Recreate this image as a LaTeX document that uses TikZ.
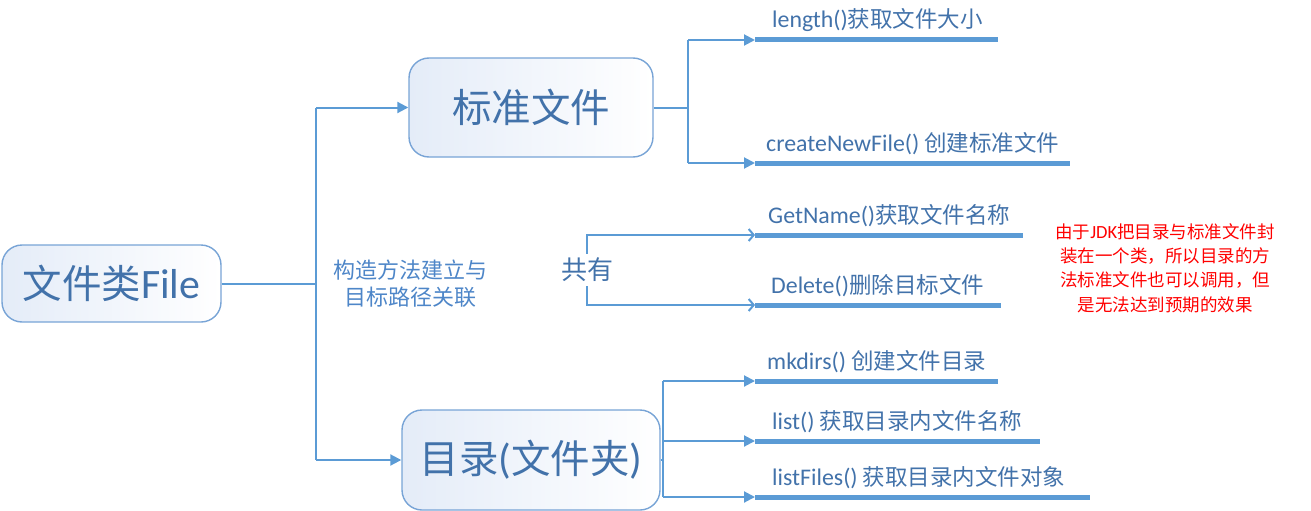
\documentclass[tikz,border=0pt]{standalone}
\usepackage{fontspec}
\setmainfont{Noto Sans CJK SC}
\newfontfamily\lat[Scale=1.06]{Carlito}
\usetikzlibrary{arrows.meta}
\definecolor{lineblue}{RGB}{91,155,213}
\definecolor{txtblue}{RGB}{66,114,170}
\definecolor{lblblue}{RGB}{78,134,200}
\definecolor{boxborder}{RGB}{120,164,214}
\definecolor{boxfill}{RGB}{228,236,248}
\begin{document}
\begin{tikzpicture}[x=1pt,y=-1pt,
  bigbox/.style={draw=boxborder,line width=1.4pt,rounded corners=20pt,
    left color=boxfill,right color=white,text=txtblue,
    font=\fontsize{39.5}{44}\selectfont,inner sep=0pt},
  conn/.style={draw=lineblue,line width=2pt},
  tri/.style={conn,-{Triangle[length=11pt,width=11pt]}},
  barb/.style={conn,-{Straight Barb[length=5pt,width=12pt]}},
  ul/.style={draw=lineblue,line width=5pt},
  lab/.style={text=txtblue,font=\fontsize{22.5}{26}\selectfont,anchor=base west,inner sep=0pt}
]
\useasboundingbox (0,0) rectangle (1311,511);

% main boxes
\node[bigbox,minimum width=219pt,minimum height=77pt] (root) at (111.5,283.5) {文件类{\lat File}};
\node[bigbox,minimum width=244pt,minimum height=99pt] (box1) at (531,107.5) {标准文件};
\node[bigbox,minimum width=258pt,minimum height=100pt] (box2) at (531,460) {目录{\lat (}文件夹{\lat )}};

% trunk
\coordinate (j1t) at (316,107.5);
\coordinate (j1b) at (316,460);
\draw[conn] (root.east) -- (root.east -| j1t);
\draw[conn] (j1t) -- (j1b);
\draw[tri] (j1t) -- (box1.west);
\draw[tri] (j1b) -- (box2.west);
\node[text=lblblue,font=\fontsize{22}{27}\selectfont,align=center] (ctor) at (410,284) {构造方法建立与\\目标路径关联};

% branch of box1
\coordinate (k1t) at (688,40);
\coordinate (k1b) at (688,163);
\coordinate (u1s) at (755,40);  \coordinate (u1e) at (998,40);
\coordinate (u2s) at (755,163); \coordinate (u2e) at (1070,163);
\draw[conn] (box1.east) -- (box1.east -| k1t);
\draw[conn] (k1t) -- (k1b);
\draw[tri] (k1t) -- (u1s);
\draw[tri] (k1b) -- (u2s);
\draw[ul] (u1s) -- (u1e);
\draw[ul] (u2s) -- (u2e);
\node[lab] (len) at (772,28) {{\lat length()}获取文件大小};
\node[lab] (cnf) at (766,151) {{\lat createNewFile()} 创建标准文件};

% shared
\node[text=txtblue,font=\fontsize{26}{30}\selectfont,inner sep=4pt] (share) at (587,270) {共有};
\coordinate (g1s) at (755,235); \coordinate (g1e) at (1023,235);
\coordinate (g2s) at (755,305); \coordinate (g2e) at (1001,305);
\draw[barb] (share.north) |- (g1s);
\draw[barb] (share.south) |- (g2s);
\draw[ul] (g1s) -- (g1e);
\draw[ul] (g2s) -- (g2e);
\node[lab] (gn) at (768,223) {{\lat GetName()}获取文件名称};
\node[lab] (del) at (771,293) {{\lat Delete()}删除目标文件};

% note
\node[text=red,font=\fontsize{17.5}{24.4}\selectfont,align=center,inner sep=0pt] (note) at (1165,268)
  {由于{\lat JDK}把目录与标准文件封\\装在一个类，所以目录的方\\法标准文件也可以调用，但\\是无法达到预期的效果};

% branch of box2
\coordinate (k2t) at (663,381);
\coordinate (k2m) at (663,441);
\coordinate (k2b) at (663,497);
\coordinate (v1s) at (755,381); \coordinate (v1e) at (998,381);
\coordinate (v2s) at (755,441); \coordinate (v2e) at (1040,441);
\coordinate (v3s) at (755,497); \coordinate (v3e) at (1090,497);
\draw[conn] (box2.east) -- (box2.east -| k2t);
\draw[conn] (k2t) -- (k2b);
\draw[tri] (k2t) -- (v1s);
\draw[tri] (k2m) -- (v2s);
\draw[tri] (k2b) -- (v3s);
\draw[ul] (v1s) -- (v1e);
\draw[ul] (v2s) -- (v2e);
\draw[ul] (v3s) -- (v3e);
\node[lab] (mk) at (767,369) {{\lat mkdirs()} 创建文件目录};
\node[lab] (ls) at (772,429) {{\lat list()} 获取目录内文件名称};
\node[lab] (lf) at (772,485) {{\lat listFiles()} 获取目录内文件对象};
\end{tikzpicture}
\end{document}
